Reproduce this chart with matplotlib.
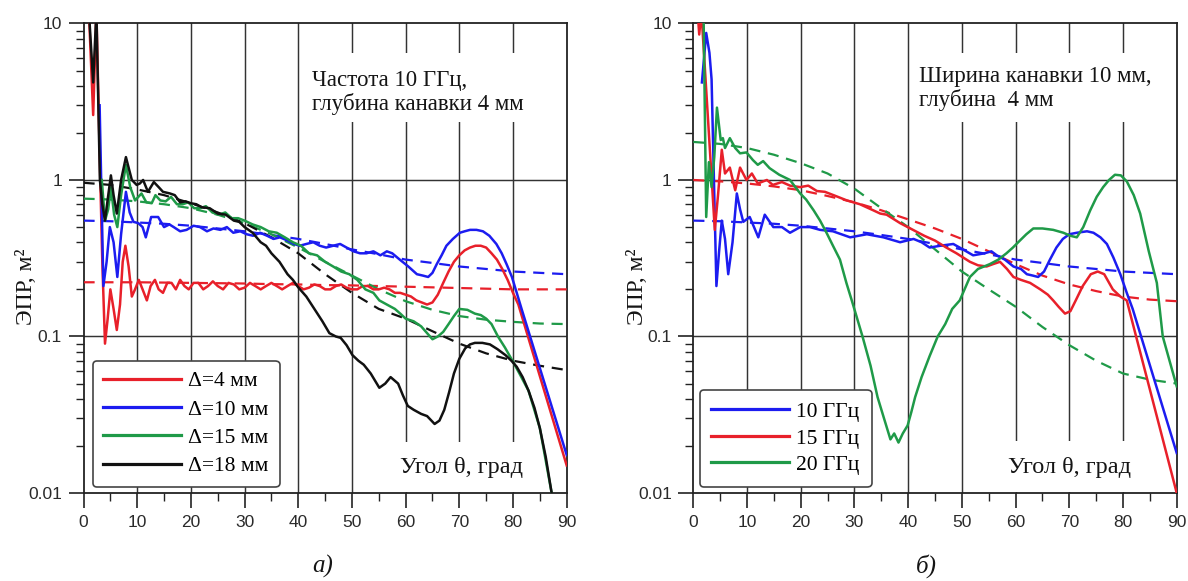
import matplotlib
matplotlib.use('Agg')
import matplotlib.pyplot as plt
from matplotlib.ticker import LogLocator, NullFormatter
from matplotlib.patches import Rectangle
from matplotlib.font_manager import FontProperties

SERIF = ['Liberation Serif', 'DejaVu Serif']
SANS = ['Liberation Sans', 'DejaVu Sans']
plt.rcParams['font.family'] = SANS

RED = '#e8202a'
BLUE = '#1c1cf0'
GREEN = '#1f9a48'
BLACK = '#111111'

# ---------------- left panel (a): frequency 10 GHz, depth 4 mm ----------------
l_red_x = [1.0, 1.8, 2.4, 3.0, 3.5, 4.0, 4.5, 5.0, 5.6, 6.2, 6.8, 7.3, 7.8, 8.4, 9.0, 9.6, 10.3, 11.0, 11.8,
           12.5, 13.3, 14.0, 14.8, 15.6, 16.4, 17.2, 18.0, 18.8, 19.6, 20.5, 21.4, 22.3, 23.2, 24.1, 25.0,
           26.0, 27.0, 28.0, 29.0, 30.0, 31.0, 32.0, 33.0, 34.0, 35.0, 36.0, 37.0, 38.0, 39.0, 40.0, 41.0,
           42.0, 43.0, 44.0, 45.0, 46.0, 47.0, 48.0, 49.0, 50.0, 51.0, 52.0, 53.0, 54.0, 55.0, 56.0, 57.0,
           58.0, 59.0, 60.0, 61.0, 62.0, 63.0, 64.0, 65.0, 66.0, 67.0, 68.0, 69.0, 70.0, 71.0, 72.0, 73.0,
           74.0, 75.0, 76.0, 77.0, 78.0, 79.0, 80.0, 81.0, 90.0]
l_red_y = [12, 2.6, 12, 1.5, 0.3, 0.09, 0.13, 0.2, 0.15, 0.11, 0.16, 0.3, 0.38, 0.28, 0.18, 0.2, 0.23, 0.2, 0.17,
           0.21, 0.23, 0.2, 0.19, 0.22, 0.22, 0.2, 0.23, 0.21, 0.2, 0.22, 0.22, 0.2, 0.21, 0.225, 0.21,
           0.2, 0.22, 0.215, 0.2, 0.205, 0.22, 0.21, 0.2, 0.21, 0.22, 0.21, 0.2, 0.21, 0.22, 0.21, 0.2,
           0.205, 0.215, 0.21, 0.2, 0.2, 0.21, 0.215, 0.205, 0.2, 0.2, 0.21, 0.21, 0.2, 0.2, 0.205, 0.2,
           0.19, 0.19, 0.185, 0.18, 0.17, 0.165, 0.16, 0.165, 0.185, 0.22, 0.26, 0.3, 0.33, 0.355, 0.37, 0.38,
           0.38, 0.37, 0.34, 0.31, 0.27, 0.23, 0.19, 0.16, 0.015]

l_blue_x = [3.0, 3.7, 4.3, 4.9, 5.6, 6.3, 7.0, 7.9, 8.6, 9.3, 10.2, 11.0, 11.6, 12.6, 13.9, 15.0, 16.0, 16.8,
            18.0, 19.2, 20.5, 21.7, 23.0, 24.2, 25.5, 26.7, 27.9, 29.2, 30.4, 31.6, 32.9, 34.2, 35.4, 36.6,
            38.0, 39.2, 40.3, 41.5, 42.8, 44.0, 45.2, 46.5, 47.8, 49.0, 50.3, 51.5, 52.7, 54.0, 55.3, 56.5,
            57.5, 58.9, 60.5, 62.1, 63.2, 64.2, 65.0, 65.8, 66.7, 67.6, 68.8, 70.1, 71.0, 72.0, 73.2, 74.4,
            75.6, 76.9, 77.9, 78.8, 79.8, 80.7, 81.6, 90.0]
l_blue_y = [3.0, 0.21, 0.3, 0.5, 0.4, 0.24, 0.45, 0.84, 0.62, 0.54, 0.53, 0.5, 0.43, 0.58, 0.58, 0.5, 0.52, 0.5,
            0.47, 0.48, 0.51, 0.5, 0.47, 0.49, 0.48, 0.5, 0.46, 0.47, 0.45, 0.44, 0.46, 0.44, 0.42, 0.43,
            0.41, 0.39, 0.38, 0.39, 0.4, 0.38, 0.37, 0.38, 0.39, 0.37, 0.35, 0.34, 0.34, 0.35, 0.33, 0.35,
            0.34, 0.31, 0.28, 0.25, 0.245, 0.24, 0.255, 0.29, 0.33, 0.38, 0.42, 0.46, 0.47, 0.48, 0.48, 0.47,
            0.44, 0.39, 0.34, 0.29, 0.24, 0.19, 0.15, 0.0175]

l_green_x = [3.4, 4.0, 4.6, 5.1, 5.7, 6.3, 7.0, 7.9, 8.7, 9.6, 10.8, 11.7, 12.7, 13.4, 14.3, 15.3, 16.3, 17.4,
             18.5, 19.5, 20.6, 21.7, 22.8, 24.0, 25.2, 26.4, 27.6, 28.8, 30.0, 31.5, 33.0, 34.5, 36.0, 37.5,
             39.0, 40.5, 42.0, 43.5, 45.0, 46.5, 48.0, 49.5, 51.0, 52.5, 54.0, 55.1, 56.5, 58.0, 59.0, 60.0,
             61.5, 62.9, 64.0, 65.0, 66.0, 67.0, 68.0, 69.0, 70.0, 71.5, 72.9, 74.0, 75.0, 76.0, 77.2, 78.5,
             80.0, 81.2, 82.9, 85.0, 87.2]
l_green_y = [1.0, 0.55, 0.65, 0.9, 0.6, 0.5, 0.8, 1.25, 0.9, 0.74, 0.82, 0.72, 0.71, 0.8, 0.74, 0.73, 0.78, 0.7,
             0.7, 0.72, 0.66, 0.66, 0.68, 0.62, 0.6, 0.62, 0.57, 0.57, 0.55, 0.52, 0.5, 0.47, 0.46, 0.43,
             0.4, 0.38, 0.34, 0.33, 0.3, 0.28, 0.26, 0.25, 0.23, 0.2, 0.19, 0.17, 0.16, 0.15, 0.14, 0.13,
             0.125, 0.116, 0.105, 0.096, 0.1, 0.107, 0.12, 0.135, 0.15, 0.148, 0.14, 0.137, 0.13, 0.12, 0.1, 0.085,
             0.069, 0.058, 0.045, 0.026, 0.01]

l_black_x = [1.0, 1.8, 2.4, 3.05, 3.5, 4.0, 4.5, 5.1, 5.6, 6.2, 7.0, 7.9, 8.4, 9.0, 9.9, 10.5, 11.1, 12.0, 13.1,
             14.0, 14.8, 16.1, 17.0, 18.0, 19.0, 20.0, 21.0, 22.0, 23.5, 25.0, 26.5, 28.0, 29.0, 30.0, 31.5,
             33.0, 34.0, 35.0, 36.5, 38.0, 39.0, 40.0, 41.5, 43.0, 44.5, 45.8, 47.0, 47.9, 49.0, 50.1, 51.2,
             52.2, 53.5, 55.1, 56.2, 57.2, 58.6, 59.5, 60.4, 61.5, 62.9, 64.0, 65.4, 66.3, 67.2, 68.1, 69.0,
             70.0, 71.1, 72.0, 72.9, 74.3, 75.7, 77.1, 78.6, 79.7, 80.7, 81.8, 82.9, 84.0, 85.0, 86.1, 87.2]
l_black_y = [12, 4.2, 12, 1.0, 0.7, 0.55, 0.75, 1.07, 0.8, 0.61, 1.0, 1.4, 1.2, 1.0, 0.93, 0.95, 1.0, 0.84, 0.97,
             0.9, 0.84, 0.82, 0.8, 0.72, 0.73, 0.71, 0.7, 0.67, 0.66, 0.61, 0.6, 0.55, 0.54, 0.5, 0.46,
             0.4, 0.38, 0.34, 0.3, 0.25, 0.23, 0.206, 0.18, 0.15, 0.125, 0.105, 0.1, 0.098, 0.088, 0.076, 0.07,
             0.066, 0.058, 0.047, 0.05, 0.055, 0.05, 0.042, 0.036, 0.034, 0.032, 0.031, 0.0276, 0.029, 0.034, 0.044, 0.058,
             0.072, 0.084, 0.089, 0.091, 0.091, 0.089, 0.083, 0.076, 0.07, 0.064, 0.055, 0.045, 0.035, 0.026, 0.017, 0.01]

l_dash_x = [0, 5, 10, 15, 20, 25, 30, 35, 40, 45, 50, 55, 60, 65, 70, 75, 80, 85, 90]
l_red_dash = [0.222, 0.222, 0.222, 0.221, 0.22, 0.219, 0.218, 0.216, 0.215, 0.213, 0.212, 0.21, 0.208, 0.206,
              0.204, 0.202, 0.2, 0.2, 0.2]
l_blue_dash = [0.55, 0.545, 0.535, 0.525, 0.51, 0.49, 0.47, 0.445, 0.42, 0.39, 0.36, 0.335, 0.31, 0.295,
               0.28, 0.27, 0.26, 0.255, 0.25]
l_green_dash = [0.76, 0.75, 0.73, 0.7, 0.66, 0.6, 0.53, 0.45, 0.37, 0.3, 0.245, 0.2, 0.168, 0.148, 0.135,
                0.128, 0.124, 0.121, 0.12]
l_black_dash = [0.96, 0.93, 0.87, 0.8, 0.71, 0.62, 0.53, 0.43, 0.34, 0.25, 0.19, 0.15, 0.13, 0.108, 0.09,
                0.078, 0.07, 0.065, 0.061]

l_labels = ['Δ=4 мм', 'Δ=10 мм', 'Δ=15 мм', 'Δ=18 мм']

# ---------------- right panel (b): width 10 mm, depth 4 mm ----------------
r_blue_x = [1.6, 2.4, 3.0, 3.4, 4.3, 4.8, 5.3, 5.9, 6.5, 7.3, 8.1, 8.7, 9.3, 10.5, 11.3, 12.1, 13.3, 14.9, 16.5,
            18.0, 19.9, 21.7, 23.6, 26.0, 29.2, 32.3, 35.4, 38.5, 41.0, 42.5, 44.0, 46.0, 48.4, 50.2, 52.1,
            54.2, 55.5, 56.5, 58.0, 59.6, 61.0, 62.1, 63.2, 64.2, 65.3, 66.4, 67.6, 68.8, 70.0, 71.4, 73.3,
            74.5, 75.8, 77.0, 78.2, 79.5, 80.7, 81.8, 90.0]
r_blue_y = [4.2, 8.7, 6.5, 4.4, 0.21, 0.35, 0.55, 0.42, 0.25, 0.4, 0.82, 0.65, 0.54, 0.58, 0.5, 0.43, 0.6, 0.5, 0.5,
            0.46, 0.5, 0.5, 0.48, 0.47, 0.43, 0.45, 0.43, 0.4, 0.42, 0.4, 0.37, 0.38, 0.39, 0.36, 0.33,
            0.34, 0.35, 0.33, 0.31, 0.28, 0.27, 0.25, 0.245, 0.24, 0.26, 0.31, 0.37, 0.42, 0.45, 0.46, 0.47,
            0.46, 0.43, 0.39, 0.32, 0.25, 0.19, 0.15, 0.018]

r_red_x = [0.8, 1.1, 1.5, 4.0, 4.6, 5.3, 5.9, 6.8, 7.8, 8.7, 9.9, 10.9, 12.0, 13.7, 14.8, 16.5, 18.0, 19.9, 21.4,
           23.0, 24.5, 26.1, 28.6, 31.0, 33.5, 34.8, 36.0, 38.5, 40.9, 43.0, 45.0, 47.1, 49.0, 51.5, 53.0,
           54.6, 55.8, 57.1, 58.4, 59.6, 61.0, 62.7, 64.6, 66.0, 67.0, 68.0, 69.2, 70.2, 71.2, 72.5, 74.0,
           75.3, 76.5, 78.1, 79.5, 80.7, 90.0]
r_red_y = [12, 8.5, 12, 0.48, 0.8, 1.56, 1.1, 1.2, 0.86, 1.2, 1.0, 1.1, 0.95, 1.0, 0.93, 0.97, 0.92, 0.9, 0.92,
           0.85, 0.84, 0.8, 0.74, 0.7, 0.64, 0.61, 0.6, 0.53, 0.48, 0.44, 0.41, 0.37, 0.34, 0.3, 0.285,
           0.28, 0.29, 0.3, 0.27, 0.24, 0.23, 0.22, 0.2, 0.185, 0.17, 0.155, 0.14, 0.145, 0.17, 0.21, 0.25,
           0.26, 0.25, 0.2, 0.18, 0.17, 0.01]

r_green_x = [1.0, 1.9, 2.4, 2.9, 3.4, 3.9, 4.4, 5.1, 5.5, 5.9, 6.8, 7.8, 8.7, 9.9, 11.1, 12.0, 13.0, 14.2, 16.0,
             18.0, 19.9, 21.0, 22.4, 23.6, 24.8, 26.0, 27.3, 28.5, 29.5, 31.5, 33.0, 34.3, 35.5, 36.7, 37.4,
             38.2, 39.0, 39.9, 40.6, 41.3, 42.5, 44.0, 45.5, 46.9, 48.2, 49.6, 50.5, 51.5, 53.0, 55.2, 56.8,
             58.3, 59.5, 60.8, 62.0, 63.3, 65.0, 67.0, 68.9, 70.2, 71.4, 72.6, 73.9, 75.1, 76.3, 77.4, 78.5,
             79.6, 80.7, 82.0, 83.2, 84.8, 86.3, 87.4, 90.0]
r_green_y = [12, 12, 0.58, 1.3, 0.9, 1.4, 2.9, 1.8, 1.85, 1.6, 1.85, 1.6, 1.48, 1.5, 1.34, 1.25, 1.32, 1.19, 1.08,
             1.0, 0.82, 0.75, 0.64, 0.55, 0.46, 0.38, 0.31, 0.22, 0.17, 0.1, 0.065, 0.041, 0.03, 0.022, 0.024,
             0.021, 0.024, 0.027, 0.033, 0.041, 0.055, 0.075, 0.1, 0.12, 0.15, 0.17, 0.2, 0.24, 0.27, 0.29, 0.31,
             0.34, 0.37, 0.41, 0.45, 0.49, 0.49, 0.48, 0.46, 0.44, 0.43, 0.5, 0.64, 0.78, 0.9, 1.0, 1.08,
             1.07, 0.98, 0.8, 0.61, 0.35, 0.22, 0.1, 0.048]

r_dash_x = [0, 5, 10, 15, 20, 25, 30, 35, 40, 45, 50, 55, 60, 65, 70, 75, 80, 85, 90]
r_blue_dash = [0.55, 0.545, 0.535, 0.525, 0.51, 0.49, 0.47, 0.445, 0.42, 0.39, 0.36, 0.335, 0.31, 0.295,
               0.28, 0.27, 0.26, 0.255, 0.25]
r_red_dash = [1.0, 0.98, 0.95, 0.91, 0.86, 0.79, 0.72, 0.64, 0.56, 0.49, 0.42, 0.35, 0.29, 0.245, 0.215,
              0.195, 0.18, 0.172, 0.168]
r_green_dash = [1.75, 1.7, 1.6, 1.45, 1.28, 1.1, 0.88, 0.66, 0.5, 0.36, 0.26, 0.2, 0.155, 0.115, 0.088,
                0.07, 0.058, 0.053, 0.05]

r_labels = ['10 ГГц', '15 ГГц', '20 ГГц']

x_ticks = [0, 10, 20, 30, 40, 50, 60, 70, 80, 90]
y_ticks = [0.01, 0.1, 1, 10]
y_ticklabels = ['0.01', '0.1', '1', '10']

fig = plt.figure(figsize=(11.88, 5.81), dpi=100)
axL = fig.add_axes([0.0703, 0.1515, 0.4067, 0.8081])
axR = fig.add_axes([0.5836, 0.1515, 0.4069, 0.8081])


def style(ax):
    ax.set_yscale('log')
    ax.set_xlim(0, 90)
    ax.set_ylim(0.01, 10)
    ax.set_xticks(x_ticks)
    ax.set_xticks([5, 15, 25, 35, 45, 55, 65, 75, 85], minor=True)
    ax.set_yticks(y_ticks)
    ax.set_yticklabels(y_ticklabels)
    ax.yaxis.set_minor_locator(LogLocator(base=10, subs=range(2, 10)))
    ax.yaxis.set_minor_formatter(NullFormatter())
    ax.tick_params(which='major', direction='out', length=11, width=1.2, labelsize=12.5,
                   pad=4.5, labelcolor='#2a2a2a', color='#222222')
    ax.tick_params(which='minor', direction='out', length=6, width=1.0, color='#222222')
    for s in ax.spines.values():
        s.set_linewidth(1.3)
        s.set_color('#222222')
    for xv in x_ticks[1:-1]:
        ax.axvline(xv, color='#333333', lw=1.05, zorder=1)
    for yv in [0.1, 1]:
        ax.axhline(yv, color='#333333', lw=1.05, zorder=1)


style(axL)
style(axR)

dash = (0, (5, 3.5))
LW = 1.8

# left panel
for y, c in [(l_red_dash, RED), (l_blue_dash, BLUE), (l_green_dash, GREEN), (l_black_dash, BLACK)]:
    axL.plot(l_dash_x, y, color=c, lw=1.6, linestyle=dash, zorder=3)
hL = []
for x, y, c in [(l_red_x, l_red_y, RED), (l_blue_x, l_blue_y, BLUE),
                (l_green_x, l_green_y, GREEN), (l_black_x, l_black_y, BLACK)]:
    ln, = axL.plot(x, y, color=c, lw=LW, zorder=4)
    hL.append(ln)

# right panel
for y, c in [(r_blue_dash, BLUE), (r_red_dash, RED), (r_green_dash, GREEN)]:
    axR.plot(r_dash_x, y, color=c, lw=1.6, linestyle=dash, zorder=3)
hR = []
for x, y, c in [(r_blue_x, r_blue_y, BLUE), (r_red_x, r_red_y, RED), (r_green_x, r_green_y, GREEN)]:
    ln, = axR.plot(x, y, color=c, lw=LW, zorder=4)
    hR.append(ln)

# white boxes behind annotations (hide grid)
for ax, x0 in [(axL, 0.452), (axR, 0.452)]:
    ax.add_patch(Rectangle((x0, 0.79), 0.995 - x0, 0.147, transform=ax.transAxes,
                           facecolor='white', edgecolor='none', zorder=1.5))
axL.add_patch(Rectangle((0.645, 0.003), 0.35, 0.105, transform=axL.transAxes,
                        facecolor='white', edgecolor='none', zorder=1.5))
axR.add_patch(Rectangle((0.634, 0.003), 0.36, 0.108, transform=axR.transAxes,
                        facecolor='white', edgecolor='none', zorder=1.5))

TF = 16.5
TC = '#151515'
axL.text(0.472, 0.867, 'Частота 10 ГГц,', transform=axL.transAxes, family=SERIF, fontsize=TF,
         va='baseline', ha='left', zorder=2, color=TC)
axL.text(0.472, 0.816, 'глубина канавки 4 мм', transform=axL.transAxes, family=SERIF, fontsize=TF,
         va='baseline', ha='left', zorder=2, color=TC)
axR.text(0.467, 0.875, 'Ширина канавки 10 мм,', transform=axR.transAxes, family=SERIF, fontsize=TF,
         va='baseline', ha='left', zorder=2, color=TC)
axR.text(0.467, 0.824, 'глубина  4 мм', transform=axR.transAxes, family=SERIF, fontsize=TF,
         va='baseline', ha='left', zorder=2, color=TC)
axL.text(0.655, 0.0426, 'Угол θ, град', transform=axL.transAxes, family=SERIF, fontsize=17.5,
         va='baseline', ha='left', zorder=2, color=TC)
axR.text(0.651, 0.0426, 'Угол θ, град', transform=axR.transAxes, family=SERIF, fontsize=17.5,
         va='baseline', ha='left', zorder=2, color=TC)

for ax, xl in [(axL, -0.118), (axR, -0.115)]:
    ax.text(xl, 0.44, 'ЭПР, м²', transform=ax.transAxes, family=SERIF, fontsize=17,
            rotation=90, ha='center', va='center', color=TC)

legfont = FontProperties(family=SERIF, size=15.5)
legL = axL.legend(hL, l_labels, loc='lower left', bbox_to_anchor=(0.019, 0.013), borderaxespad=0,
                  prop=legfont, handlelength=3.6, handletextpad=0.35, labelspacing=0.38,
                  borderpad=0.5, frameon=True, fancybox=True, framealpha=1, edgecolor='#444444')
legR = axR.legend(hR, r_labels, loc='lower left', bbox_to_anchor=(0.013, 0.013), borderaxespad=0,
                  prop=legfont, handlelength=3.6, handletextpad=0.35, labelspacing=0.3,
                  borderpad=0.55, frameon=True, fancybox=True, framealpha=1, edgecolor='#444444')
for lg in (legL, legR):
    lg.get_frame().set_linewidth(1.2)
    lg.set_zorder(6)
    for l in lg.get_lines():
        l.set_linewidth(2.3)

fig.text(323 / 1188, 1 - 566 / 581, 'а)', family=SERIF, style='italic', fontsize=18,
         ha='center', va='center', color=TC)
fig.text(926 / 1188, 1 - 566 / 581, 'б)', family=SERIF, style='italic', fontsize=18,
         ha='center', va='center', color=TC)

fig.savefig('out.png', dpi=100, facecolor='white')
